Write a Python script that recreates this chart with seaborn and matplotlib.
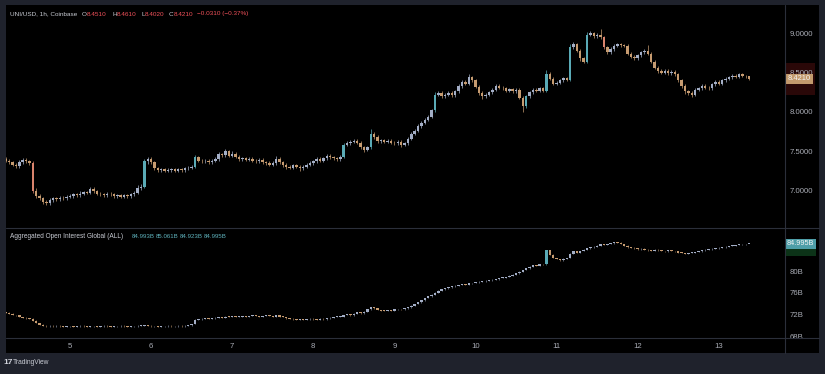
import numpy as np
import pandas as pd
import matplotlib
matplotlib.use("Agg")
import matplotlib.pyplot as plt
import matplotlib.transforms as mtransforms
from matplotlib.patches import Rectangle
import seaborn as sns

# ---------------- data (hourly, UNI/USD Coinbase) ----------------
start_day = 4 + 5 / 24          # first candle: day 4, 05:00
first_open = 7.40

close_d4 = [7.38, 7.36, 7.33, 7.31, 7.36, 7.39, 7.37, 7.35, 7.00, 6.93, 6.90, 6.86, 6.84, 6.88, 6.90, 6.89, 6.91, 6.90, 6.92]
close_d5 = [6.93, 6.95, 6.94, 6.96, 6.98, 6.97, 7.02, 6.99, 6.96, 6.95, 6.94, 6.96, 6.95, 6.93, 6.94, 6.92, 6.94, 6.93, 6.95, 6.97, 7.03, 7.05, 7.37, 7.40]
close_d6 = [7.36, 7.28, 7.26, 7.27, 7.25, 7.26, 7.27, 7.25, 7.27, 7.26, 7.28, 7.29, 7.30, 7.42, 7.38, 7.37, 7.38, 7.36, 7.38, 7.40, 7.46, 7.45, 7.50, 7.44]
close_d7 = [7.47, 7.43, 7.40, 7.41, 7.39, 7.40, 7.38, 7.37, 7.39, 7.36, 7.35, 7.33, 7.35, 7.40, 7.36, 7.33, 7.30, 7.29, 7.32, 7.30, 7.28, 7.30, 7.33, 7.35]
close_d8 = [7.37, 7.40, 7.38, 7.41, 7.44, 7.42, 7.41, 7.40, 7.43, 7.58, 7.60, 7.62, 7.63, 7.61, 7.55, 7.52, 7.55, 7.72, 7.68, 7.63, 7.64, 7.62, 7.63, 7.61]
close_d9 = [7.60, 7.62, 7.58, 7.60, 7.66, 7.72, 7.76, 7.82, 7.86, 7.90, 7.94, 8.02, 8.22, 8.24, 8.20, 8.22, 8.24, 8.21, 8.26, 8.33, 8.38, 8.36, 8.44, 8.40]
close_d10 = [8.32, 8.24, 8.20, 8.22, 8.25, 8.28, 8.33, 8.31, 8.30, 8.27, 8.29, 8.26, 8.28, 8.18, 8.07, 8.20, 8.25, 8.28, 8.27, 8.30, 8.27, 8.48, 8.42, 8.36]
close_d11 = [8.37, 8.40, 8.43, 8.41, 8.82, 8.86, 8.78, 8.68, 8.64, 8.98, 9.00, 8.96, 8.98, 8.95, 8.82, 8.76, 8.80, 8.84, 8.86, 8.85, 8.84, 8.74, 8.70, 8.68]
close_d12 = [8.72, 8.76, 8.78, 8.74, 8.64, 8.56, 8.52, 8.50, 8.52, 8.49, 8.51, 8.48, 8.40, 8.33, 8.26, 8.24, 8.22, 8.28, 8.30, 8.33, 8.31, 8.30, 8.35, 8.38]
close_d13 = [8.36, 8.40, 8.42, 8.44, 8.46, 8.45, 8.48, 8.46, 8.451, 8.421]

# wick extensions above max(open, close) / below min(open, close), in cents
whi_d4 = [2, 2, 1, 2, 3, 2, 2, 2, 3, 3, 2, 2, 2, 3, 2, 2, 2, 2, 2]
wlo_d4 = [2, 2, 2, 2, 2, 2, 2, 2, 3, 3, 2, 3, 2, 2, 2, 2, 2, 2, 2]
whi_d5 = [2, 2, 2, 3, 2, 2, 3, 2, 2, 2, 2, 2, 2, 2, 2, 2, 2, 2, 2, 3, 4, 3, 3, 3]
wlo_d5 = [2, 2, 2, 2, 2, 2, 2, 2, 2, 2, 2, 2, 2, 2, 2, 2, 2, 2, 2, 2, 2, 2, 2, 3]
whi_d6 = [3, 2, 2, 2, 2, 2, 2, 2, 2, 2, 2, 2, 2, 3, 2, 2, 2, 2, 2, 3, 3, 2, 3, 2]
wlo_d6 = [2, 2, 2, 2, 2, 2, 2, 2, 2, 2, 2, 2, 2, 2, 2, 2, 2, 2, 2, 2, 2, 2, 2, 2]
whi_d7 = [3, 2, 2, 2, 2, 2, 2, 2, 2, 2, 2, 2, 2, 4, 2, 2, 2, 2, 2, 2, 2, 2, 2, 2]
wlo_d7 = [2, 2, 2, 2, 2, 2, 2, 2, 2, 2, 2, 2, 2, 2, 2, 3, 3, 2, 2, 2, 3, 2, 2, 2]
whi_d8 = [2, 2, 2, 2, 3, 2, 2, 2, 2, 3, 3, 2, 2, 2, 2, 2, 2, 6, 2, 2, 2, 2, 2, 2]
wlo_d8 = [2, 2, 2, 2, 2, 2, 2, 2, 2, 2, 2, 2, 2, 2, 2, 3, 2, 2, 2, 2, 2, 2, 2, 2]
whi_d9 = [2, 2, 2, 2, 2, 2, 2, 2, 2, 2, 2, 2, 3, 3, 2, 2, 2, 2, 2, 3, 3, 2, 4, 2]
wlo_d9 = [2, 2, 3, 2, 2, 2, 2, 2, 2, 2, 2, 2, 2, 2, 2, 2, 2, 2, 2, 2, 2, 2, 2, 2]
whi_d10 = [2, 2, 2, 2, 2, 2, 3, 2, 2, 2, 2, 2, 2, 2, 2, 2, 2, 2, 2, 2, 2, 5, 3, 2]
wlo_d10 = [2, 2, 3, 2, 2, 2, 2, 2, 2, 2, 2, 2, 2, 2, 7, 2, 2, 2, 2, 2, 2, 2, 2, 2]
whi_d11 = [2, 2, 2, 2, 4, 3, 2, 2, 2, 4, 3, 2, 3, 8, 2, 2, 2, 2, 2, 2, 2, 2, 2, 2]
wlo_d11 = [2, 2, 2, 2, 2, 2, 2, 3, 2, 2, 2, 2, 2, 2, 2, 2, 2, 2, 2, 2, 2, 2, 2, 2]
whi_d12 = [2, 2, 2, 7, 2, 2, 2, 2, 2, 2, 2, 2, 2, 2, 2, 2, 2, 2, 2, 2, 2, 2, 2, 2]
wlo_d12 = [2, 2, 2, 2, 2, 2, 2, 2, 2, 2, 2, 2, 2, 3, 3, 3, 3, 2, 2, 2, 2, 2, 2, 2]
whi_d13 = [2, 2, 2, 2, 2, 2, 2, 2, 1.0, 1.0]
wlo_d13 = [2, 2, 2, 2, 2, 2, 2, 2, 2, 1.9]

# Aggregated open interest (billions), hourly closes
oi_first_open = 72.4
oi_d4 = [72.3, 72.1, 71.9, 71.8, 71.5, 71.4, 71.3, 71.2, 70.8, 70.4, 70.1, 69.9, 69.8, 69.9, 69.8, 69.9, 69.8, 69.7, 69.8]
oi_d5 = [69.8, 69.7, 69.8, 69.9, 69.8, 69.7, 69.8, 69.8, 69.7, 69.8, 69.9, 69.8, 69.7, 69.8, 69.8, 69.9, 69.8, 69.7, 69.8, 69.8, 69.9, 69.9, 70.0, 69.9]
oi_d6 = [69.8, 69.8, 69.7, 69.8, 69.8, 69.9, 69.8, 69.8, 69.9, 69.8, 69.9, 70.0, 70.2, 71.0, 71.1, 71.2, 71.3, 71.2, 71.3, 71.4, 71.5, 71.4, 71.6, 71.5]
oi_d7 = [71.6, 71.5, 71.6, 71.7, 71.6, 71.7, 71.8, 71.7, 71.6, 71.7, 71.8, 71.7, 71.6, 71.8, 71.6, 71.5, 71.3, 71.2, 71.1, 71.0, 71.1, 71.0, 71.1, 71.2]
oi_d8 = [71.1, 71.0, 71.2, 71.1, 71.3, 71.4, 71.5, 71.6, 71.6, 71.9, 72.0, 71.8, 72.1, 72.4, 72.2, 72.5, 72.9, 73.3, 73.1, 72.8, 72.7, 72.6, 72.8, 72.7]
oi_d9 = [72.9, 73.0, 72.9, 73.1, 73.3, 73.6, 73.9, 74.2, 74.6, 75.0, 75.3, 75.6, 76.0, 76.4, 76.6, 76.8, 77.0, 77.2, 77.3, 77.4, 77.6, 77.5, 77.7, 77.8]
oi_d10 = [77.9, 78.0, 78.1, 78.2, 78.3, 78.4, 78.5, 78.7, 78.8, 78.9, 79.1, 79.3, 79.6, 79.9, 80.2, 80.5, 80.8, 81.1, 81.0, 81.3, 81.2, 83.8, 83.0, 82.4]
oi_d11 = [82.2, 82.0, 82.3, 82.4, 83.2, 83.6, 83.4, 83.7, 83.9, 84.2, 84.4, 84.5, 84.7, 84.9, 84.8, 85.0, 85.1, 85.3, 85.2, 85.0, 84.7, 84.4, 84.3, 84.2]
oi_d12 = [84.0, 84.1, 83.9, 83.8, 83.7, 83.9, 83.8, 83.7, 83.6, 83.8, 83.7, 83.6, 83.4, 83.3, 83.2, 83.3, 83.4, 83.5, 83.6, 83.8, 83.9, 84.0, 84.1, 84.2]
oi_d13 = [84.3, 84.4, 84.5, 84.6, 84.7, 84.8, 84.9, 84.95, 84.993, 84.995]

price_ticks = [7.0, 7.5, 8.0, 8.5, 9.0]
price_tick_labels = ["7.0000", "7.5000", "8.0000", "8.5000", "9.0000"]
oi_ticks = [68, 72, 76, 80]
oi_tick_labels = ["68B", "72B", "76B", "80B"]
day_ticks = [5, 6, 7, 8, 9, 10, 11, 12, 13]
day_labels = ["5", "6", "7", "8", "9", "10", "11", "12", "13"]

header_parts = [("UNI/USD, 1h, Coinbase", "#c9ccd4"), ("O", "#c9ccd4"), ("8.4510", "#f0515a"),
                ("H", "#c9ccd4"), ("8.4610", "#f0515a"), ("L", "#c9ccd4"), ("8.4020", "#f0515a"),
                ("C", "#c9ccd4"), ("8.4210", "#f0515a"), ("\u22120.0310 (\u22120.37%)", "#f0515a")]
oi_title = "Aggregated Open Interest Global (ALL)"
oi_values = ["84.993B", "85.061B", "84.923B", "84.995B"]

# ---------------- build frames ----------------
closes = np.array(close_d4 + close_d5 + close_d6 + close_d7 + close_d8 + close_d9 + close_d10 + close_d11 + close_d12 + close_d13)
whi = np.array(whi_d4 + whi_d5 + whi_d6 + whi_d7 + whi_d8 + whi_d9 + whi_d10 + whi_d11 + whi_d12 + whi_d13) / 100
wlo = np.array(wlo_d4 + wlo_d5 + wlo_d6 + wlo_d7 + wlo_d8 + wlo_d9 + wlo_d10 + wlo_d11 + wlo_d12 + wlo_d13) / 100
n = len(closes)
t = start_day + np.arange(n) / 24
opens = np.concatenate([[first_open], closes[:-1]])
highs = np.maximum(opens, closes) + whi
lows = np.minimum(opens, closes) - wlo
df = pd.DataFrame({"t": t, "open": opens, "high": highs, "low": lows, "close": closes})

oi_c = np.array(oi_d4 + oi_d5 + oi_d6 + oi_d7 + oi_d8 + oi_d9 + oi_d10 + oi_d11 + oi_d12 + oi_d13)
oi_o = np.concatenate([[oi_first_open], oi_c[:-1]])
oi = pd.DataFrame({"t": t, "open": oi_o, "close": oi_c,
                   "high": np.maximum(oi_o, oi_c) + 0.07, "low": np.minimum(oi_o, oi_c) - 0.07})

# ---------------- style ----------------
sns.set_theme(style="dark", rc={"axes.facecolor": "#000000", "figure.facecolor": "#1f222c",
                               "axes.edgecolor": "#000000", "grid.color": "#000000"})
plt.rcParams["font.family"] = ["Liberation Sans", "DejaVu Sans"]

W, H = 825, 374
fig = plt.figure(figsize=(W / 100, H / 100), dpi=100)


def fx(x):
    return x / W


def fy(y):
    return 1 - y / H


# black chart canvas (behind the axes)
fig.patches.append(Rectangle((fx(6), fy(353)), fx(813), 348 / H, transform=fig.transFigure,
                             facecolor="#000000", edgecolor="none", zorder=-5))

ax = fig.add_axes([fx(6), fy(228), fx(779), 223 / H])
ax2 = fig.add_axes([fx(6), fy(338), fx(779), 110 / H], sharex=ax)

UP_S, UP_B, DN_S, DN_B = "#a3aec6", "#5aaab6", "#c69b70", "#d9836c"


def candle_colors(o, c, big):
    cols = []
    for oo, cc in zip(o, c):
        if cc >= oo:
            cols.append(UP_B if cc - oo > big else UP_S)
        else:
            cols.append(DN_B if oo - cc > big else DN_S)
    return cols


def draw(a, d, big, minh, lw):
    cols = candle_colors(d["open"], d["close"], big)
    a.vlines(d["t"], d["low"], d["high"], colors=cols, linewidth=lw, zorder=3)
    body = np.maximum(np.abs(d["close"] - d["open"]), minh)
    a.bar(d["t"], body, bottom=np.minimum(d["open"], d["close"]), width=0.72 / 24,
          color=cols, linewidth=0, zorder=4)


draw(ax, df, 0.12, 0.007, 0.5)
draw(ax2, oi, 0.9, 0.12, 0.4)

x0 = 5 + (6 - 70) / 81.1
x1 = 5 + (785 - 70) / 81.1
ax.set_xlim(x0, x1)
ax.set_ylim(9.0 - 194.7 / 78.6, 9.0 + 28.3 / 78.6)
ax2.set_ylim(80 - 67 / 5.42, 80 + 43 / 5.42)

for a in (ax, ax2):
    a.set_facecolor("#000000")
    for s in a.spines.values():
        s.set_visible(False)
    a.grid(False)
    a.yaxis.tick_right()
    a.tick_params(axis="y", length=0, pad=3, labelsize=5.6, labelcolor="#a9acb5")
    a.set_xlabel("")
    a.set_ylabel("")

ax.set_yticks(price_ticks)
ax.set_yticklabels(price_tick_labels)
ax2.set_yticks(oi_ticks)
ax2.set_yticklabels(oi_tick_labels)
ax.tick_params(axis="x", length=0, labelbottom=False)
ax2.set_xticks(day_ticks)
ax2.set_xticklabels(day_labels)
ax2.tick_params(axis="x", length=0, pad=3.5, labelsize=5.6, labelcolor="#a9acb5")

# separators
line_c = "#2b2f3a"
fig.add_artist(plt.Line2D([fx(785), fx(785)], [fy(5), fy(353)], color=line_c, lw=0.8, zorder=6))
fig.add_artist(plt.Line2D([fx(6), fx(819)], [fy(228), fy(228)], color=line_c, lw=0.8, zorder=6))
fig.add_artist(plt.Line2D([fx(6), fx(819)], [fy(338), fy(338)], color=line_c, lw=0.8, zorder=6))

# highlighted ranges on the scales (drawn below the scale labels)
fig.patches.append(Rectangle((fx(786), fy(95)), fx(29), 32 / H, transform=fig.transFigure,
                             facecolor="#2a0808", edgecolor="none", zorder=-4))
fig.patches.append(Rectangle((fx(786), fy(256)), fx(30), 8 / H, transform=fig.transFigure,
                             facecolor="#0c3318", edgecolor="none", zorder=-4))

# last value labels
tr = mtransforms.blended_transform_factory(ax.transAxes, ax.transData)
ax.text(1.0 + 3 / 779, df["close"].iloc[-1], "8.4210", transform=tr, ha="left", va="center",
        fontsize=5.4, color="#f4f4f4", zorder=10, clip_on=False,
        bbox=dict(boxstyle="square,pad=0.2", facecolor="#c39a6d", edgecolor="none"))
tr2 = mtransforms.blended_transform_factory(ax2.transAxes, ax2.transData)
ax2.text(1.0 + 2 / 779, oi["close"].iloc[-1], "84.995B", transform=tr2, ha="left", va="center",
         fontsize=5.2, color="#f4f4f4", zorder=10, clip_on=False,
         bbox=dict(boxstyle="square,pad=0.2", facecolor="#4e9ea8", edgecolor="none"))

# headers
hx = [10, 82, 87, 112, 117, 141, 145, 169, 174, 197]
for (txt, col), x in zip(header_parts, hx):
    fig.text(fx(x), fy(14), txt, color=col, fontsize=4.6, va="center", ha="left")
fig.text(fx(10), fy(236), oi_title, color="#c9ccd4", fontsize=4.7, va="center", ha="left")
for txt, x in zip(oi_values, [132, 156, 180, 204]):
    fig.text(fx(x), fy(236), txt, color="#5fb3bd", fontsize=4.4, va="center", ha="left")

# logo
fig.text(fx(3), fy(363), "17", color="#d1d4dc", fontsize=6, fontweight="bold", va="center", ha="left")
fig.text(fx(13), fy(363), "TradingView", color="#c9ccd4", fontsize=4.8, va="center", ha="left")

fig.savefig("out.png", dpi=100, facecolor=fig.get_facecolor())
